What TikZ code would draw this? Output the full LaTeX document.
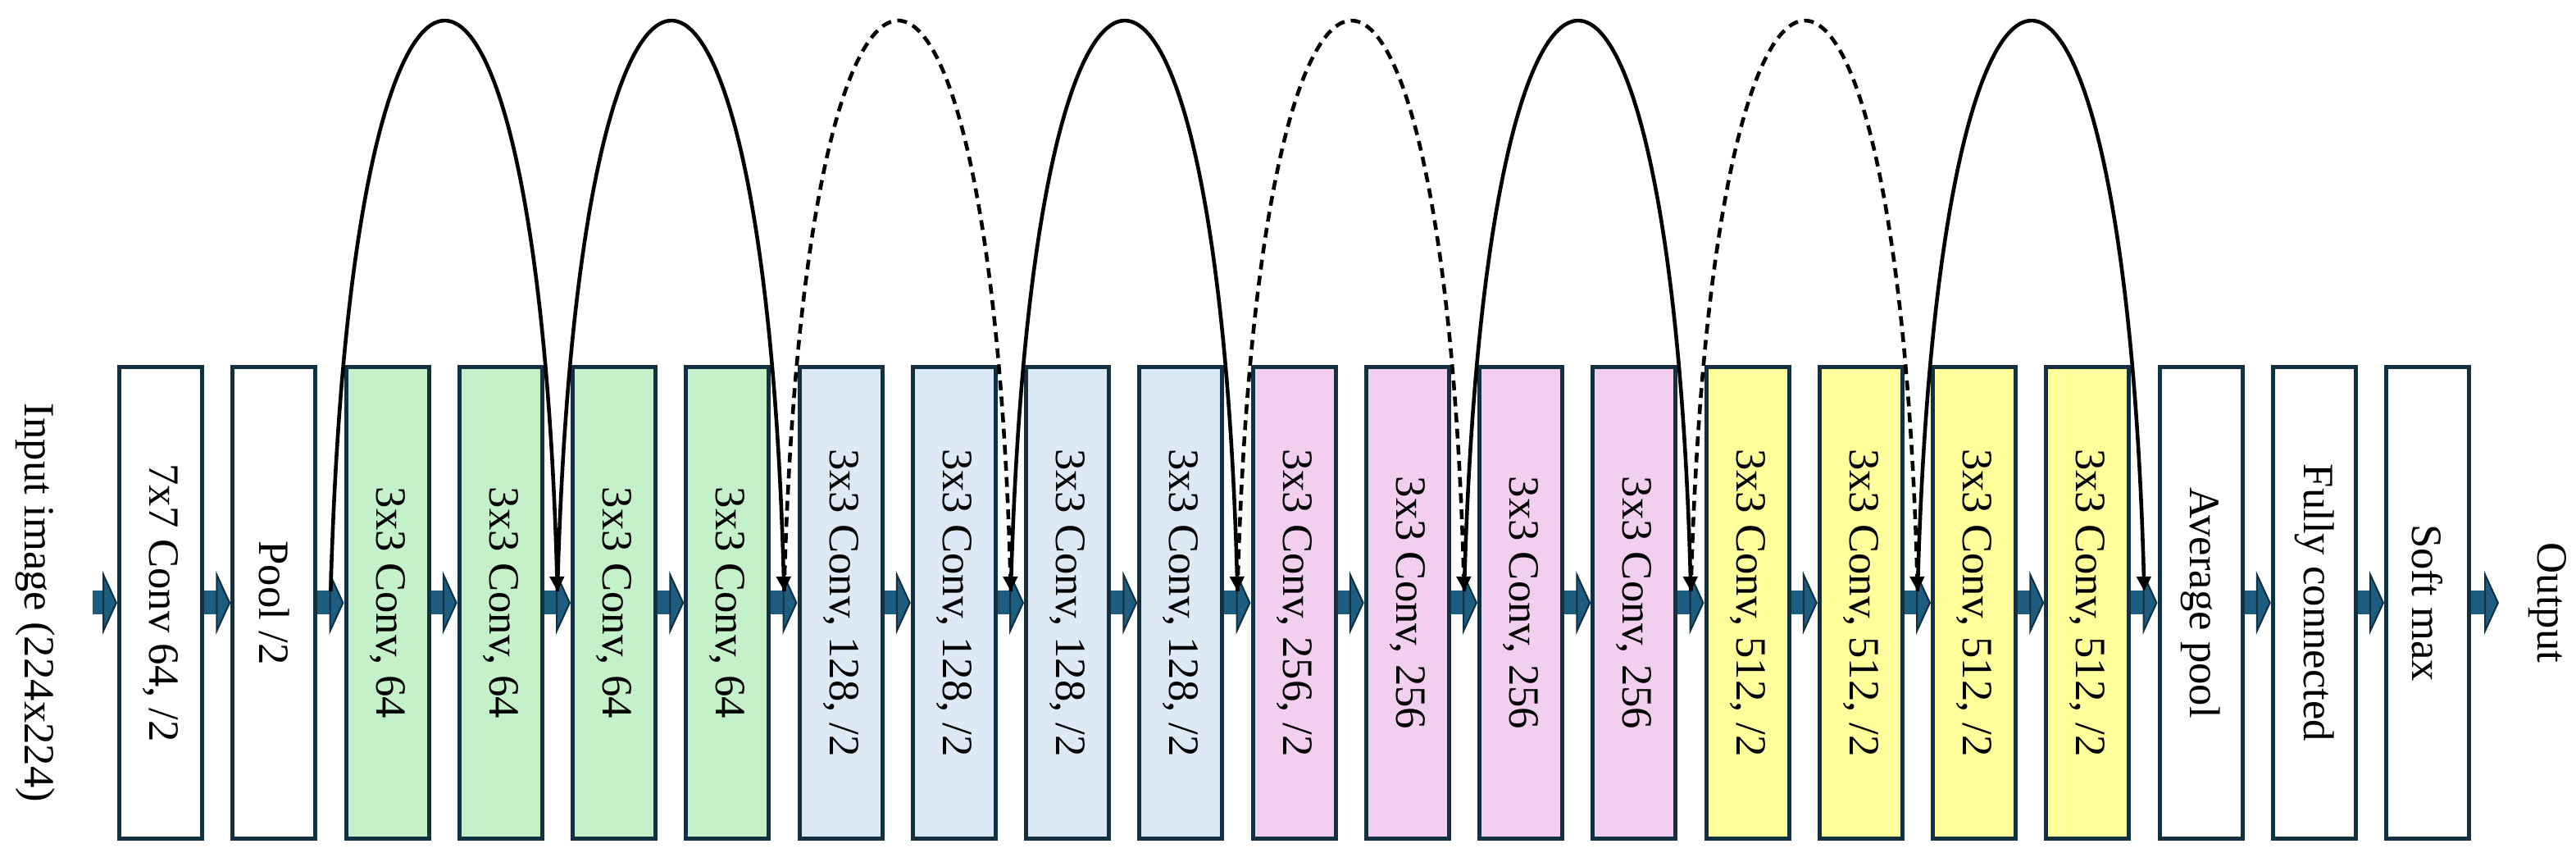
\documentclass[tikz,border=0pt]{standalone}
\usepackage{fontspec}
\setmainfont{Liberation Serif}
\usetikzlibrary{arrows.meta}

\definecolor{edgeblue}{HTML}{12303F}
\definecolor{flowblue}{HTML}{1D5E80}
\definecolor{greenfill}{HTML}{C5F1CA}
\definecolor{bluefill}{HTML}{DDEAF6}
\definecolor{pinkfill}{HTML}{F2CFEE}
\definecolor{yellowfill}{HTML}{FFFF9C}

\begin{document}
\begin{tikzpicture}
		\tikzstyle{layer}=[draw=edgeblue,line width=0.05cm,minimum width=1.01cm,minimum height=5.75cm,inner sep=0pt,font=\fontsize{15}{18}\selectfont]
		\tikzstyle{sidetext}=[inner sep=0pt,font=\fontsize{15}{18}\selectfont]
		\tikzstyle{flow}=[flowblue,line width=0.29cm,-{Triangle[length=0.18cm,width=0.78cm,line width=0.6pt,color=edgeblue,fill=flowblue]}]
		\tikzstyle{skip}=[line width=1.3pt,-{Triangle[length=0.18cm,width=0.17cm]}]
		\tikzstyle{proj}=[skip,dash pattern=on 3.4pt off 2.2pt]
		
		\useasboundingbox (0,0) rectangle (31.42,10.51);
		
		\foreach \i/\txt/\col in {1/{7x7 Conv 64, /2}/white,2/{Pool /2}/white,
			3/{3x3 Conv, 64}/greenfill,4/{3x3 Conv, 64}/greenfill,5/{3x3 Conv, 64}/greenfill,6/{3x3 Conv, 64}/greenfill,
			7/{3x3 Conv, 128, /2}/bluefill,8/{3x3 Conv, 128, /2}/bluefill,9/{3x3 Conv, 128, /2}/bluefill,10/{3x3 Conv, 128, /2}/bluefill,
			11/{3x3 Conv, 256, /2}/pinkfill,12/{3x3 Conv, 256}/pinkfill,13/{3x3 Conv, 256}/pinkfill,14/{3x3 Conv, 256}/pinkfill,
			15/{3x3 Conv, 512, /2}/yellowfill,16/{3x3 Conv, 512, /2}/yellowfill,17/{3x3 Conv, 512, /2}/yellowfill,18/{3x3 Conv, 512, /2}/yellowfill,
			19/{Average pool}/white,20/{Fully connected}/white,21/{Soft max}/white}
			\node[layer,fill=\col] (b\i) at ({1.96+(\i-1)*1.3825},3.16) {\rotatebox{-90}{\txt}};
		
		\node[sidetext] (in) at (0.43,3.16) {\rotatebox{-90}{Input image (224x224)}};
		\node[sidetext] (out) at (31.07,3.16) {\rotatebox{-90}{Output}};
		\coordinate (src) at (1.13,3.16);
		\coordinate (snk) at (30.48,3.16);
		
		\draw[flow] (src) -- (b1.west);
		\foreach \i [count=\j from 2] in {1,...,20}
			\draw[flow] (b\i.east) -- (b\j.west);
		\draw[flow] (b21.east) -- (snk);
		
		% shortcut arcs
		\foreach \k in {2,4,...,18}
			\coordinate (g\k) at ({1.96+(\k-1)*1.3825+0.69125},3.30);
		\foreach \a/\b/\s in {2/4/skip,4/6/skip,6/8/proj,8/10/skip,10/12/proj,12/14/skip,14/16/proj,16/18/skip}
			\draw[\s] (g\a) .. controls +(0.25,9.25) and +(-0.25,9.25) .. (g\b);
		\end{tikzpicture}
\end{document}
